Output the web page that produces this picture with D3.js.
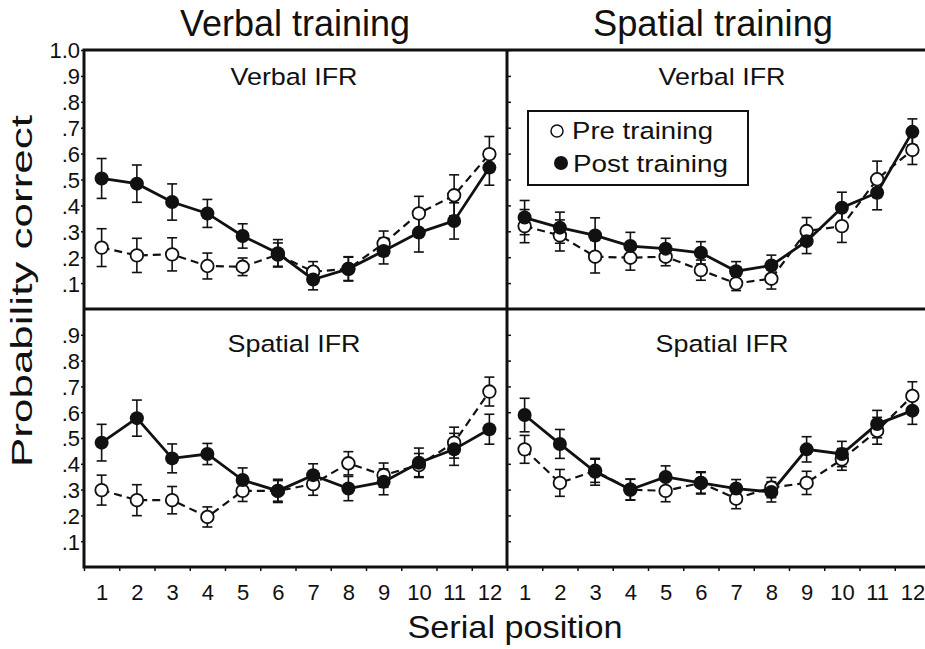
<!DOCTYPE html>
<html>
<head>
<meta charset="utf-8">
<script src="https://cdn.jsdelivr.net/npm/d3@7"></script>
<style>
  body { margin: 0; background: #fff; }
  text { font-family: "Liberation Sans", Arial, sans-serif; fill: #111; }
</style>
</head>
<body>
<div id="chart-area"></div>
<script>
// serial position curves, pre vs post training, 2x2 panels

var serialPositions = [1, 2, 3, 4, 5, 6, 7, 8, 9, 10, 11, 12];
var trainingTitles = ["Verbal training", "Spatial training"];
var testTitles = ["Verbal IFR", "Spatial IFR"];
var seriesNames = ["Pre training", "Post training"];
var topTicks = [0.1, 0.2, 0.3, 0.4, 0.5, 0.6, 0.7, 0.8, 0.9, 1.0];
var bottomTicks = [0.1, 0.2, 0.3, 0.4, 0.5, 0.6, 0.7, 0.8, 0.9];

// verbal training / verbal IFR
var vtVerbalPre     = [.237, .207, .211, .166, .163, .210, .144, .155, .253, .369, .439, .598];
var vtVerbalPreErr  = [.073, .066, .064, .050, .034, .045, .039, .045, .048, .066, .079, .068];
var vtVerbalPost    = [.504, .484, .413, .369, .282, .215, .114, .155, .224, .295, .340, .546];
var vtVerbalPostErr = [.077, .072, .070, .054, .047, .053, .040, .047, .050, .075, .070, .068];

// spatial training / verbal IFR
var stVerbalPre     = [.320, .284, .202, .198, .202, .150, .099, .117, .301, .320, .501, .614];
var stVerbalPreErr  = [.064, .060, .063, .048, .035, .039, .028, .040, .052, .063, .070, .056];
var stVerbalPost    = [.353, .314, .284, .243, .233, .217, .146, .168, .262, .391, .449, .684];
var stVerbalPostErr = [.066, .060, .068, .053, .040, .043, .037, .040, .048, .060, .066, .050];

// verbal training / spatial IFR
var vtSpatialPre     = [.298, .259, .259, .194, .295, .295, .321, .402, .356, .395, .482, .680];
var vtSpatialPreErr  = [.058, .060, .053, .039, .041, .040, .043, .045, .047, .045, .060, .056];
var vtSpatialPost    = [.482, .577, .421, .438, .337, .295, .356, .304, .330, .404, .456, .534];
var vtSpatialPostErr = [.071, .070, .056, .041, .047, .045, .044, .047, .050, .057, .062, .058];

// spatial training / spatial IFR
var stSpatialPre     = [.456, .326, .373, .300, .295, .326, .265, .308, .326, .417, .528, .663];
var stSpatialPreErr  = [.054, .052, .045, .040, .042, .040, .039, .039, .045, .042, .052, .055];
var stSpatialPost    = [.589, .477, .369, .300, .349, .326, .304, .291, .456, .438, .554, .606];
var stSpatialPostErr = [.065, .056, .052, .041, .043, .043, .035, .039, .049, .049, .053, .053];

var width = 925, height = 649;
var colX = [84, 507], colW = 423;
var rowY = [50, 309, 567];

var panels = [
  { col: 0, row: 0, pre: vtVerbalPre, preErr: vtVerbalPreErr, post: vtVerbalPost, postErr: vtVerbalPostErr },
  { col: 1, row: 0, pre: stVerbalPre, preErr: stVerbalPreErr, post: stVerbalPost, postErr: stVerbalPostErr },
  { col: 0, row: 1, pre: vtSpatialPre, preErr: vtSpatialPreErr, post: vtSpatialPost, postErr: vtSpatialPostErr },
  { col: 1, row: 1, pre: stSpatialPre, preErr: stSpatialPreErr, post: stSpatialPost, postErr: stSpatialPostErr }
];

var svg = d3.select("#chart-area").append("svg")
    .attr("width", width)
    .attr("height", height);

var xScales = colX.map(function(x0) {
  return d3.scaleLinear().domain([0.5, 12.5]).range([x0, x0 + colW]);
});
var yScales = [0, 1].map(function(r) {
  return d3.scaleLinear().domain([0, 1]).range([rowY[r + 1], rowY[r]]);
});

var fmt = function(d) { return d >= 1 ? "1.0" : d3.format(".1f")(d).replace(/^0/, ""); };

// y axes on the left
[0, 1].forEach(function(r) {
  var g = svg.append("g")
      .attr("transform", "translate(" + colX[0] + ",0)")
      .call(d3.axisLeft(yScales[r]).tickValues(r == 0 ? topTicks : bottomTicks)
        .tickFormat(fmt).tickSize(3).tickPadding(1));
  g.select(".domain").remove();
  g.selectAll("line").attr("stroke", "#111").attr("stroke-width", 1.5);
  g.selectAll("text").attr("font-size", 22).attr("dy", "0.36em")
    .style("font-family", "'Liberation Sans Narrow', 'Liberation Sans', Arial, sans-serif")
    .attr("fill", "#111");

  // small ticks on the divider
  var g2 = svg.append("g")
      .attr("transform", "translate(" + colX[1] + ",0)")
      .call(d3.axisRight(yScales[r]).tickValues(r == 0 ? topTicks : bottomTicks)
        .tickFormat("").tickSize(4));
  g2.select(".domain").remove();
  g2.selectAll("line").attr("stroke", "#111").attr("stroke-width", 1.5);
});

// x axes
[0, 1].forEach(function(c) {
  var g = svg.append("g")
      .attr("transform", "translate(0," + rowY[2] + ")")
      .call(d3.axisBottom(xScales[c]).tickValues(d3.range(0.5, 13, 1)).tickFormat("").tickSize(4));
  g.select(".domain").remove();
  g.selectAll("line").attr("stroke", "#111").attr("stroke-width", 1.5);

  var gl = svg.append("g")
      .attr("transform", "translate(0," + rowY[2] + ")")
      .call(d3.axisBottom(xScales[c]).tickValues(serialPositions).tickSize(0).tickPadding(17));
  gl.select(".domain").remove();
  gl.selectAll("text").attr("font-size", 22)
    .style("font-family", "'Liberation Sans Narrow', 'Liberation Sans', Arial, sans-serif")
    .attr("fill", "#111");
});

// frame
var frame = svg.append("g").attr("stroke", "#111").attr("stroke-width", 3).attr("fill", "none");
frame.append("rect").attr("x", colX[0]).attr("y", rowY[0])
  .attr("width", 2 * colW).attr("height", rowY[2] - rowY[0]);
frame.append("line").attr("x1", colX[1]).attr("x2", colX[1]).attr("y1", rowY[0]).attr("y2", rowY[2]);
frame.append("line").attr("x1", colX[0]).attr("x2", colX[0] + 2 * colW).attr("y1", rowY[1]).attr("y2", rowY[1]);

// titles
var titleCx = [295, 713], titleLen = [230, 240];
trainingTitles.forEach(function(t, i) {
  svg.append("text").attr("x", titleCx[i]).attr("y", 36)
    .attr("text-anchor", "middle").attr("font-size", 36)
    .attr("textLength", titleLen[i]).attr("lengthAdjust", "spacingAndGlyphs")
    .text(t);
});

var subCx = [294, 722], subBase = [85, 352], subLen = [127, 133];
panels.forEach(function(p) {
  svg.append("text").attr("x", subCx[p.col]).attr("y", subBase[p.row])
    .attr("text-anchor", "middle").attr("font-size", 24.5)
    .attr("textLength", subLen[p.row]).attr("lengthAdjust", "spacingAndGlyphs")
    .text(testTitles[p.row]);
});

svg.append("text")
  .attr("transform", "translate(32,291) rotate(-90)")
  .attr("text-anchor", "middle").attr("font-size", 30)
  .attr("textLength", 352).attr("lengthAdjust", "spacingAndGlyphs")
  .text("Probability correct");

svg.append("text").attr("x", 515).attr("y", 638)
  .attr("text-anchor", "middle").attr("font-size", 32)
  .attr("textLength", 215).attr("lengthAdjust", "spacingAndGlyphs")
  .text("Serial position");

// data
panels.forEach(function(p) {
  var x = xScales[p.col], y = yScales[p.row];
  var g = svg.append("g");

  var line = d3.line().x(function(d, i) { return x(serialPositions[i]); }).y(function(d) { return y(d); });

  g.append("path").datum(p.pre)
    .attr("d", line).attr("fill", "none").attr("stroke", "#111")
    .attr("stroke-width", 2.2).attr("stroke-dasharray", "8,5");
  g.append("path").datum(p.post)
    .attr("d", line).attr("fill", "none").attr("stroke", "#111")
    .attr("stroke-width", 2.8);

  [[p.pre, p.preErr], [p.post, p.postErr]].forEach(function(s) {
    var bars = g.selectAll(null).data(s[0]).enter().append("g")
      .attr("stroke", "#111").attr("stroke-width", 1.6);
    bars.append("line")
      .attr("x1", function(d, i) { return x(serialPositions[i]); })
      .attr("x2", function(d, i) { return x(serialPositions[i]); })
      .attr("y1", function(d, i) { return y(d - s[1][i]); })
      .attr("y2", function(d, i) { return y(d + s[1][i]); });
    [-1, 1].forEach(function(sign) {
      bars.append("line")
        .attr("x1", function(d, i) { return x(serialPositions[i]) - 5; })
        .attr("x2", function(d, i) { return x(serialPositions[i]) + 5; })
        .attr("y1", function(d, i) { return y(d + sign * s[1][i]); })
        .attr("y2", function(d, i) { return y(d + sign * s[1][i]); });
    });
  });

  g.selectAll(null).data(p.pre).enter().append("circle")
    .attr("cx", function(d, i) { return x(serialPositions[i]); })
    .attr("cy", function(d) { return y(d); })
    .attr("r", 6.3).attr("fill", "#fff").attr("stroke", "#111").attr("stroke-width", 1.8);
  g.selectAll(null).data(p.post).enter().append("circle")
    .attr("cx", function(d, i) { return x(serialPositions[i]); })
    .attr("cy", function(d) { return y(d); })
    .attr("r", 7).attr("fill", "#111");
});

// legend
var legend = svg.append("g");
legend.append("rect").attr("x", 528).attr("y", 111).attr("width", 220).attr("height", 74)
  .attr("fill", "#fff").attr("stroke", "#111").attr("stroke-width", 2);
legend.append("circle").attr("cx", 557).attr("cy", 131).attr("r", 6)
  .attr("fill", "#fff").attr("stroke", "#111").attr("stroke-width", 1.5);
legend.append("circle").attr("cx", 561).attr("cy", 163).attr("r", 7).attr("fill", "#111");
var legLen = [141, 155], legX = [572, 573], legY = [139, 172];
seriesNames.forEach(function(n, i) {
  legend.append("text").attr("x", legX[i]).attr("y", legY[i])
    .attr("font-size", 24.5)
    .attr("textLength", legLen[i]).attr("lengthAdjust", "spacingAndGlyphs")
    .text(n);
});
</script>
</body>
</html>
